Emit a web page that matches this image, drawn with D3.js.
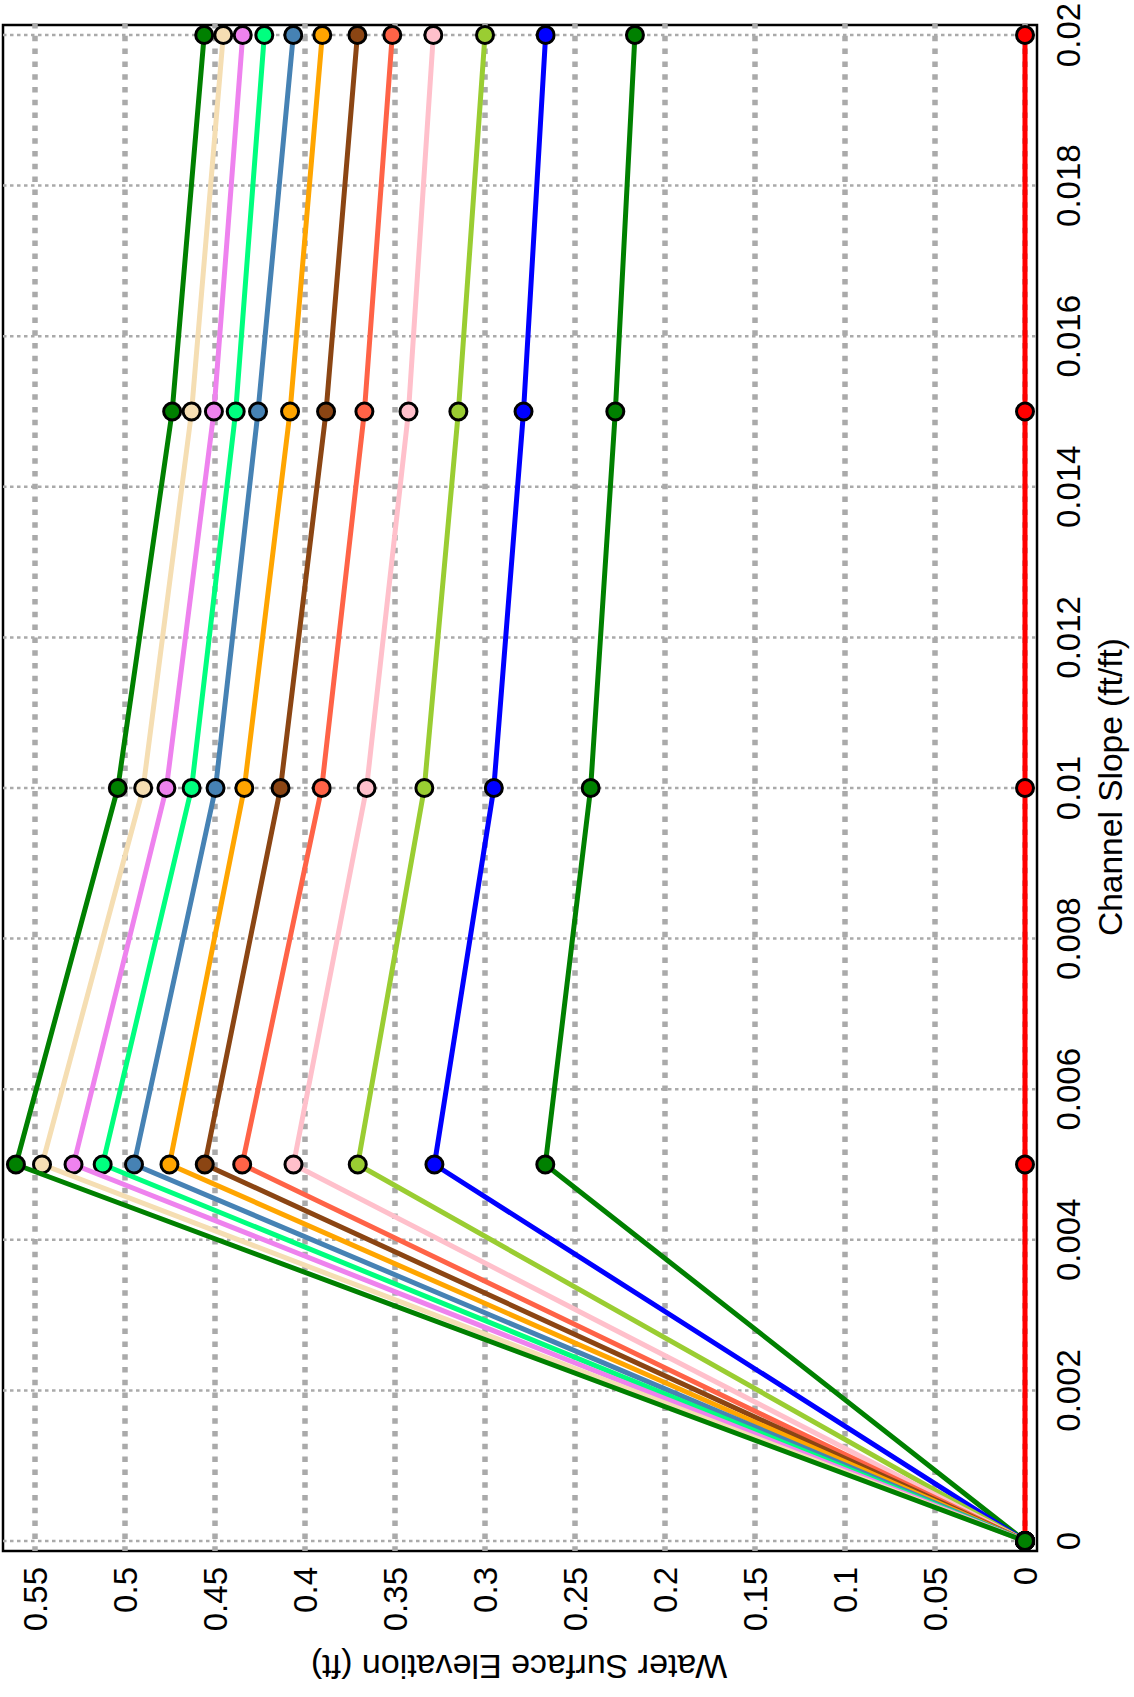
<!DOCTYPE html>
<html>
<head>
<meta charset="utf-8">
<script src="https://cdn.jsdelivr.net/npm/d3@7"></script>
<style>
html, body { margin: 0; padding: 0; background: #fff; }
svg { display: block; font-family: "Liberation Sans", Arial, Helvetica, sans-serif; }
</style>
</head>
<body>
<svg id="chart" width="1134" height="1697"></svg>
<script>
// channel slope (ft/ft) at which every run was made
var slopes = [0, 0.005, 0.01, 0.015, 0.02];

// water surface elevation (ft), one array per run
var elevRed         = [0, 0,      0,      0,      0];
var elevGreenLow    = [0, 0.2665, 0.2413, 0.2276, 0.2167];
var elevBlue        = [0, 0.3281, 0.2951, 0.2786, 0.2663];
var elevYellowGreen = [0, 0.3707, 0.3337, 0.3148, 0.3000];
var elevPink        = [0, 0.4064, 0.3658, 0.3425, 0.3287];
var elevTomato      = [0, 0.4349, 0.3907, 0.3670, 0.3515];
var elevBrown       = [0, 0.4557, 0.4136, 0.3883, 0.3709];
var elevOrange      = [0, 0.4753, 0.4337, 0.4083, 0.3904];
var elevSteelBlue   = [0, 0.4950, 0.4497, 0.4261, 0.4065];
var elevSpringGreen = [0, 0.5124, 0.4630, 0.4385, 0.4226];
var elevViolet      = [0, 0.5286, 0.4770, 0.4506, 0.4346];
var elevWheat       = [0, 0.5461, 0.4899, 0.4630, 0.4454];
var elevGreenHigh   = [0, 0.5606, 0.5040, 0.4738, 0.4560];

var slopeTicks = [0, 0.002, 0.004, 0.006, 0.008, 0.01, 0.012, 0.014, 0.016, 0.018, 0.02];
var elevTicks = [0, 0.05, 0.1, 0.15, 0.2, 0.25, 0.3, 0.35, 0.4, 0.45, 0.5, 0.55];

var series = [
    { values: elevRed, color: "#ff0000" },
    { values: elevGreenLow, color: "#008000" },
    { values: elevBlue, color: "#0000ff" },
    { values: elevYellowGreen, color: "#9acd32" },
    { values: elevPink, color: "#ffc0cb" },
    { values: elevTomato, color: "#ff6347" },
    { values: elevBrown, color: "#8b4513" },
    { values: elevOrange, color: "#ffa500" },
    { values: elevSteelBlue, color: "#4682b4" },
    { values: elevSpringGreen, color: "#00ff7f" },
    { values: elevViolet, color: "#ee82ee" },
    { values: elevWheat, color: "#f5deb3" },
    { values: elevGreenHigh, color: "#008000" }
];

var W = 1134, H = 1697;
var fmt = function(d) { return String(+d.toFixed(4)); };

var svg = d3.select("#chart");
svg.append("rect").attr("width", W).attr("height", H).attr("fill", "#fff");

// chart is laid out upright, then turned a quarter turn counter-clockwise
var g = svg.append("g").attr("transform", "translate(0," + H + ") rotate(-90)");

var frame = { left: 146, right: 1672, top: 3, bottom: 1037 };
var x = d3.scaleLinear().domain([0, 0.02]).range([156, 1662]);
var y = d3.scaleLinear().domain([0, 0.55]).range([1025, 35]);

g.append("rect")
    .attr("x", frame.left).attr("y", frame.top)
    .attr("width", frame.right - frame.left).attr("height", frame.bottom - frame.top)
    .attr("fill", "none").attr("stroke", "#000").attr("stroke-width", 2.5);

// grid
g.selectAll("line.grid-y").data(elevTicks).enter().append("line")
    .attr("class", "grid-y")
    .attr("x1", frame.right + 2).attr("x2", frame.left)
    .attr("y1", function(d) { return y(d); }).attr("y2", function(d) { return y(d); })
    .attr("stroke", "#aaaaaa").attr("stroke-width", 5.5).attr("stroke-dasharray", "5.5,7.3");

g.selectAll("line.grid-x").data(slopeTicks).enter().append("line")
    .attr("class", "grid-x")
    .attr("x1", function(d) { return x(d); }).attr("x2", function(d) { return x(d); })
    .attr("y1", frame.top).attr("y2", frame.bottom)
    .attr("stroke", "#aaaaaa").attr("stroke-width", 2.5).attr("stroke-dasharray", "3.5,3.5");

// runs: line then points, one run after the other
var line = d3.line()
    .x(function(d, i) { return x(slopes[i]); })
    .y(function(d) { return y(d); });

series.forEach(function(s) {
    var sg = g.append("g").attr("class", "run");
    sg.append("path")
        .attr("d", line(s.values))
        .attr("fill", "none").attr("stroke", s.color)
        .attr("stroke-width", 5).attr("stroke-linejoin", "round");
    sg.selectAll("circle").data(s.values).enter().append("circle")
        .attr("cx", function(d, i) { return x(slopes[i]); })
        .attr("cy", function(d) { return y(d); })
        .attr("r", 8.5)
        .attr("fill", s.color).attr("stroke", "#000").attr("stroke-width", 3);
});

// tick labels
g.selectAll("text.tick-y").data(elevTicks).enter().append("text")
    .attr("class", "tick-y")
    .attr("x", 130).attr("y", function(d) { return y(d); })
    .attr("dy", "0.37em").attr("text-anchor", "end")
    .attr("font-size", 33)
    .text(fmt);

g.selectAll("text.tick-x").data(slopeTicks).enter().append("text")
    .attr("class", "tick-x")
    .attr("x", function(d) { return x(d); }).attr("y", 1080)
    .attr("text-anchor", "middle")
    .attr("font-size", 33)
    .text(fmt);

// axis titles
g.append("text")
    .attr("x", 910).attr("y", 1122)
    .attr("text-anchor", "middle").attr("font-size", 33.5)
    .text("Channel Slope (ft/ft)");

g.append("text")
    .attr("transform", "translate(42,519) rotate(-90)")
    .attr("text-anchor", "middle").attr("font-size", 34)
    .text("Water Surface Elevation (ft)");
</script>
</body>
</html>
